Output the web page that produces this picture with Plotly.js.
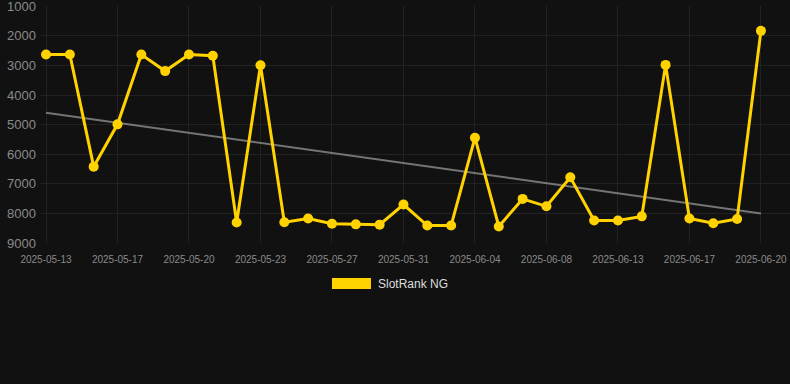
<!DOCTYPE html>
<html>
<head>
<meta charset="utf-8">
<script src="https://cdn.plot.ly/plotly-3.0.1.min.js"></script>
<style>
html,body{margin:0;padding:0;background:#111111;}
#chart{width:790px;height:384px;}
</style>
</head>
<body>
<div id="chart"></div>
<script>
// Categories (dates) - one per data point
const dates = [
  "2025-05-13","2025-05-14","2025-05-15","2025-05-17","2025-05-18","2025-05-19",
  "2025-05-20","2025-05-21","2025-05-22","2025-05-23","2025-05-24","2025-05-25",
  "2025-05-27","2025-05-28","2025-05-29","2025-05-31","2025-06-01","2025-06-02",
  "2025-06-04","2025-06-05","2025-06-06","2025-06-08","2025-06-09","2025-06-11",
  "2025-06-13","2025-06-14","2025-06-15","2025-06-17","2025-06-18","2025-06-19",
  "2025-06-20"
];
// SlotRank NG values
const ranks = [
  2630, 2630, 6420, 4990, 2630, 3190,
  2630, 2670, 8310, 2990, 8300, 8170,
  8350, 8370, 8380, 7700, 8410, 8410,
  5440, 8440, 7510, 7760, 6780, 8240,
  8240, 8100, 2980, 8170, 8330, 8190,
  1830
];
// Trend line endpoints (first and last date)
const trendDates = ["2025-05-13", "2025-06-20"];
const trendValues = [4600, 8000];
// Tick labels shown on the x axis
const tickDates = ["2025-05-13","2025-05-17","2025-05-20","2025-05-23","2025-05-27",
  "2025-05-31","2025-06-04","2025-06-08","2025-06-13","2025-06-17","2025-06-20"];
const yTicks = [1000,2000,3000,4000,5000,6000,7000,8000,9000];
const seriesName = "SlotRank NG";

const gold = "#FFD200";

const traces = [
  {
    x: trendDates, y: trendValues, type: "scatter", mode: "lines",
    line: {color: "rgba(150,150,150,0.75)", width: 2},
    showlegend: false, hoverinfo: "skip"
  },
  {
    x: dates, y: ranks, type: "scatter", mode: "lines+markers",
    name: seriesName,
    line: {color: gold, width: 3},
    marker: {color: gold, size: 10},
    showlegend: false
  }
];

const layout = {
  width: 790, height: 384,
  paper_bgcolor: "#111111", plot_bgcolor: "#111111",
  margin: {l: 40, r: 0, t: 6, b: 141},
  font: {family: "Liberation Sans, Arial, sans-serif", color: "#8a8a8a"},
  showlegend: false,
  xaxis: {
    type: "category",
    categoryorder: "array", categoryarray: dates,
    range: [-0.252, 31.22],
    tickmode: "array", tickvals: tickDates, ticktext: tickDates,
    tickfont: {size: 10, color: "#8a8a8a"},
    showgrid: true, gridcolor: "#222222", gridwidth: 1,
    zeroline: false, showline: false, ticks: "",
    ticklabelstandoff: 9,
    fixedrange: true
  },
  yaxis: {
    range: [9000, 990],
    tickmode: "array", tickvals: yTicks,
    ticktext: yTicks.map(String),
    tickfont: {size: 13, color: "#8a8a8a"},
    showgrid: true, gridcolor: "#222222", gridwidth: 1,
    zeroline: false, showline: false, ticks: "",
    ticklabelstandoff: 3,
    ticklabeloverflow: "allow",
    fixedrange: true
  },
  shapes: [
    {type: "rect", xref: "paper", yref: "paper",
     x0: 0.3893, x1: 0.4413, y0: -0.194, y1: -0.1477,
     fillcolor: gold, line: {width: 0}}
  ],
  annotations: [
    {text: seriesName, xref: "paper", yref: "paper", x: 0.4475, y: -0.173,
     xanchor: "left", yanchor: "middle", showarrow: false,
     font: {size: 12, color: "#dddddd"}}
  ]
};

Plotly.newPlot("chart", traces, layout, {displayModeBar: false, staticPlot: true});
</script>
</body>
</html>
